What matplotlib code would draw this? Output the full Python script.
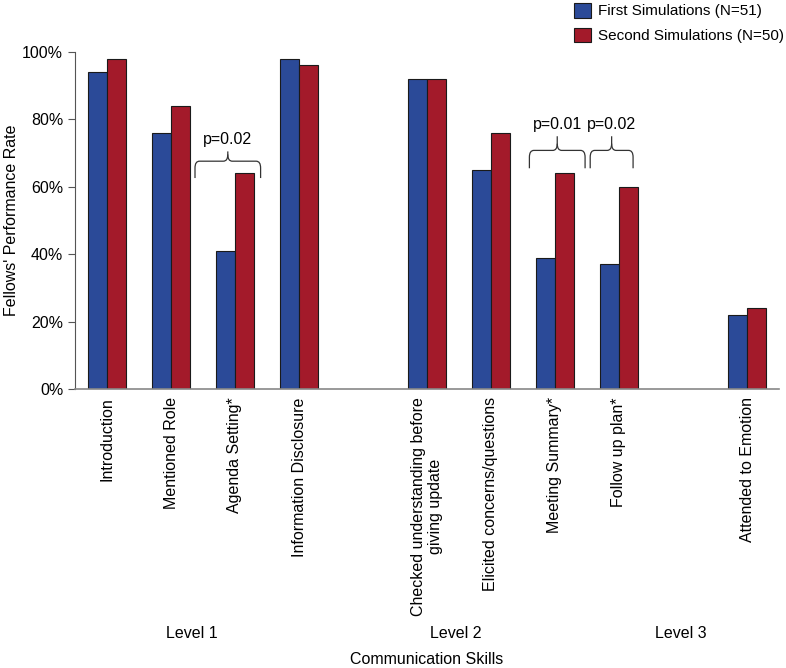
import matplotlib.pyplot as plt
import numpy as np
from matplotlib.path import Path
from matplotlib.patches import PathPatch, Patch

skills = ['Introduction', 'Mentioned Role', 'Agenda Setting*', 'Information Disclosure',
          'Checked understanding before\ngiving update', 'Elicited concerns/questions',
          'Meeting Summary*', 'Follow up plan*', 'Attended to Emotion']
positions = [0, 1, 2, 3, 5, 6, 7, 8, 10]
first_sim = [94, 76, 41, 98, 92, 65, 39, 37, 22]
second_sim = [98, 84, 64, 96, 92, 76, 64, 60, 24]
levels = ['Level 1', 'Level 2', 'Level 3']
level_pos = [1.33, 5.45, 8.97]
# (x start, x end, leg bottom, bar line, tip, label)
braces = [(1.375, 2.4, 62.6, 67.6, 70.5, 'p=0.02'),
          (6.6, 7.47, 65.5, 70.8, 75.0, 'p=0.01'),
          (7.55, 8.22, 65.5, 70.8, 75.0, 'p=0.02')]

blue = '#2b4a98'
red = '#a31a2a'
plt.rcParams['font.family'] = ['Liberation Sans', 'DejaVu Sans']

fig = plt.figure(figsize=(7.86, 6.68), dpi=100)
ax = fig.add_axes([75 / 786, 1 - 389 / 668, 704 / 786, 337 / 668])

x = np.array(positions)
w = 0.29
ax.bar(x - w / 2, first_sim, w, color=blue, edgecolor='#1a1a1a', linewidth=0.8)
ax.bar(x + w / 2, second_sim, w, color=red, edgecolor='#1a1a1a', linewidth=0.8)


def brace(ax, x0, x1, y0, y1, ytip, label):
    xm = (x0 + x1) / 2
    dx = 0.07
    dy = 2.0
    verts = [(x0, y0), (x0, y1 - dy), (x0, y1), (x0 + dx, y1),
             (xm - dx, y1), (xm, y1), (xm, y1 + dy), (xm, ytip)]
    codes = [Path.MOVETO, Path.LINETO, Path.CURVE3, Path.CURVE3,
             Path.LINETO, Path.CURVE3, Path.CURVE3, Path.LINETO]
    verts2 = [(x1, y0), (x1, y1 - dy), (x1, y1), (x1 - dx, y1),
              (xm + dx, y1), (xm, y1), (xm, y1 + dy)]
    codes2 = [Path.MOVETO, Path.LINETO, Path.CURVE3, Path.CURVE3,
              Path.LINETO, Path.CURVE3, Path.CURVE3]
    for v, c in [(verts, codes), (verts2, codes2)]:
        ax.add_patch(PathPatch(Path(v, c), facecolor='none', edgecolor='#333333', lw=0.9))
    ax.text(xm, ytip + 1.3, label, ha='center', va='bottom', fontsize=11.5)


for b in braces:
    brace(ax, *b)

ax.set_xlim(-0.5, 10.5)
ax.set_ylim(0, 100)
ax.set_yticks([0, 20, 40, 60, 80, 100])
ax.set_yticklabels([f'{v}%' for v in [0, 20, 40, 60, 80, 100]], fontsize=11.5)
ax.set_xticks(positions)
ax.set_xticklabels(skills, rotation=90, fontsize=11.5, ha='center', va='top', multialignment='center')
ax.tick_params(axis='x', length=0, pad=6)
ax.tick_params(axis='y', length=5, color='#555555')
ax.spines['top'].set_visible(False)
ax.spines['right'].set_visible(False)
ax.spines['left'].set_color('#555555')
ax.spines['bottom'].set_color('#888888')
ax.spines['bottom'].set_linewidth(1.2)
ax.set_ylabel("Fellows' Performance Rate", fontsize=11.5)
ax.yaxis.set_label_coords(-56 / 704, 0.5)

for lab, p in zip(levels, level_pos):
    ax.text(p, -245 / 337 * 100, lab, ha='center', va='center', fontsize=11.5)
ax.text(4.99, -270 / 337 * 100, 'Communication Skills', ha='center', va='center', fontsize=11.5)

handles = [Patch(facecolor=blue, edgecolor='#1a1a1a', linewidth=0.8),
           Patch(facecolor=red, edgecolor='#1a1a1a', linewidth=0.8)]
fig.legend(handles, ['First Simulations (N=51)', 'Second Simulations (N=50)'],
           loc='upper left', bbox_to_anchor=(562 / 786, 1.014), frameon=False,
           fontsize=11, handlelength=1.1, handleheight=1.1, handletextpad=0.45,
           labelspacing=0.6, borderpad=0.3)

fig.savefig('out.png', dpi=100)
